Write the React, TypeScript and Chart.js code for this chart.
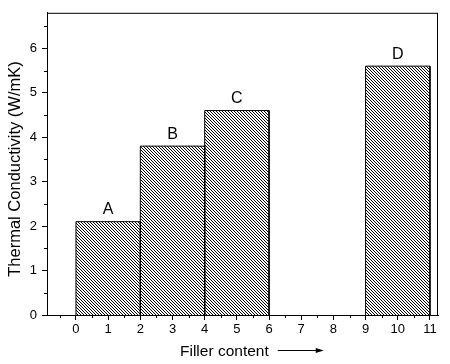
import React, { useEffect, useRef } from 'react';
import { Chart, registerables } from 'chart.js';

Chart.register(...registerables);

// ---- data ----
const barLabels = ['A', 'B', 'C', 'D'];
const barStart = [0, 2, 4, 9];
const barEnd = [2, 4, 6, 11];
const conductivity = [2.1, 3.8, 4.6, 5.6];

const xTicks = [0, 1, 2, 3, 4, 5, 6, 7, 8, 9, 10, 11];
const xMinorTicks = [-0.5, 0.5, 1.5, 2.5, 3.5, 4.5, 5.5, 6.5, 7.5, 8.5, 9.5, 10.5];
const yTicks = [0, 1, 2, 3, 4, 5, 6];
const yMinorTicks = [0.5, 1.5, 2.5, 3.5, 4.5, 5.5, 6.5];

const xTitle = 'Filler content';
const yTitle = 'Thermal Conductivity (W/mK)';

const FONT = "Arial, 'Liberation Sans', sans-serif";

function makeHatch(): CanvasPattern | string {
  const c = document.createElement('canvas');
  c.width = 3;
  c.height = 3;
  const g = c.getContext('2d');
  if (!g) return '#888';
  g.fillStyle = '#ffffff';
  g.fillRect(0, 0, 3, 3);
  g.fillStyle = '#000000';
  for (let i = 0; i < 3; i++) g.fillRect(i, i, 1, 1);
  const p = g.createPattern(c, 'repeat');
  return p || '#888';
}

const decorPlugin = {
  id: 'decor',
  afterDatasetsDraw(chart: any) {
    const { ctx, scales } = chart;
    const xs = scales.x;
    const ys = scales.y;
    ctx.save();
    ctx.fillStyle = '#000';
    ctx.font = `16px ${FONT}`;
    ctx.textAlign = 'center';
    ctx.textBaseline = 'bottom';
    barLabels.forEach((lab, i) => {
      const x = xs.getPixelForValue((barStart[i] + barEnd[i]) / 2);
      const y = ys.getPixelForValue(conductivity[i]);
      ctx.fillText(lab, x, y - 4);
    });
    ctx.restore();
  },
  afterDraw(chart: any) {
    const { ctx, chartArea, scales } = chart;
    const { left, right, top, bottom } = chartArea;
    const xs = scales.x;
    const ys = scales.y;
    ctx.save();
    ctx.strokeStyle = '#000';
    ctx.lineWidth = 1;
    // frame
    ctx.strokeRect(left + 0.5, top + 0.5, right - left - 1, bottom - top);
    // minor ticks
    ctx.beginPath();
    xMinorTicks.forEach((v) => {
      const px = Math.round(xs.getPixelForValue(v)) + 0.5;
      ctx.moveTo(px, bottom);
      ctx.lineTo(px, bottom + 3);
    });
    yMinorTicks.forEach((v) => {
      const py = Math.round(ys.getPixelForValue(v)) + 0.5;
      ctx.moveTo(left, py);
      ctx.lineTo(left - 3, py);
    });
    ctx.stroke();

    // x title + arrow
    ctx.fillStyle = '#000';
    ctx.font = `15.5px ${FONT}`;
    ctx.textAlign = 'left';
    ctx.textBaseline = 'alphabetic';
    const tx = 180;
    const ty = 356;
    ctx.fillText(xTitle, tx, ty);
    const tw = ctx.measureText(xTitle).width;
    const ax0 = tx + tw + 9;
    const ax1 = ax0 + 46;
    ctx.beginPath();
    ctx.moveTo(ax0, 350.5);
    ctx.lineTo(ax1 - 6, 350.5);
    ctx.stroke();
    ctx.beginPath();
    ctx.moveTo(ax1, 350.5);
    ctx.lineTo(ax1 - 8, 348);
    ctx.lineTo(ax1 - 8, 353);
    ctx.closePath();
    ctx.fill();

    // y title
    ctx.save();
    ctx.translate(15.5, 169);
    ctx.rotate(-Math.PI / 2);
    ctx.font = `16.5px ${FONT}`;
    ctx.textAlign = 'center';
    ctx.textBaseline = 'middle';
    ctx.fillText(yTitle, 0, 0);
    ctx.restore();

    ctx.restore();
  },
};

export default function App() {
  const ref = useRef<HTMLCanvasElement | null>(null);

  useEffect(() => {
    document.body.style.margin = '0';
    const canvas = ref.current;
    if (!canvas) return;
    const hatch = makeHatch();

    const datasets = conductivity.map((v, i) => ({
      label: barLabels[i],
      data: [
        { x: barStart[i], y: 0 },
        { x: barStart[i], y: v },
        { x: barEnd[i], y: v },
        { x: barEnd[i], y: 0 },
      ],
      showLine: true,
      fill: 'origin',
      backgroundColor: hatch,
      borderColor: '#000',
      borderWidth: 1,
      pointRadius: 0,
      pointHoverRadius: 0,
      tension: 0,
    }));

    const chart = new Chart(canvas, {
      type: 'scatter',
      data: { datasets: datasets as any },
      options: {
        responsive: false,
        animation: false,
        events: [],
        layout: { padding: { top: 6, right: 12, left: 0, bottom: 0 } },
        plugins: {
          legend: { display: false },
          tooltip: { enabled: false },
        },
        scales: {
          x: {
            type: 'linear',
            min: -0.9,
            max: 11.25,
            afterBuildTicks: (s: any) => {
              s.ticks = xTicks.map((v) => ({ value: v }));
            },
            afterFit: (s: any) => {
              s.height = 49;
            },
            ticks: {
              color: '#000',
              font: { family: FONT, size: 13 },
              padding: 2,
              maxRotation: 0,
              autoSkip: false,
            },
            grid: {
              drawOnChartArea: false,
              drawTicks: true,
              tickLength: 5,
              tickColor: '#000',
            },
            border: { display: true, color: '#000', width: 1 },
          },
          y: {
            type: 'linear',
            min: 0,
            max: 6.8,
            afterBuildTicks: (s: any) => {
              s.ticks = yTicks.map((v) => ({ value: v }));
            },
            afterFit: (s: any) => {
              s.width = 47;
            },
            ticks: {
              color: '#000',
              font: { family: FONT, size: 13 },
              padding: 5,
              autoSkip: false,
            },
            grid: {
              drawOnChartArea: false,
              drawTicks: true,
              tickLength: 5,
              tickColor: '#000',
            },
            border: { display: true, color: '#000', width: 1 },
          },
        },
      },
      plugins: [decorPlugin],
    });

    return () => {
      chart.destroy();
    };
  }, []);

  return (
    <div style={{ width: 450, height: 364 }}>
      <canvas ref={ref} width={450} height={364} style={{ display: 'block' }} />
    </div>
  );
}
